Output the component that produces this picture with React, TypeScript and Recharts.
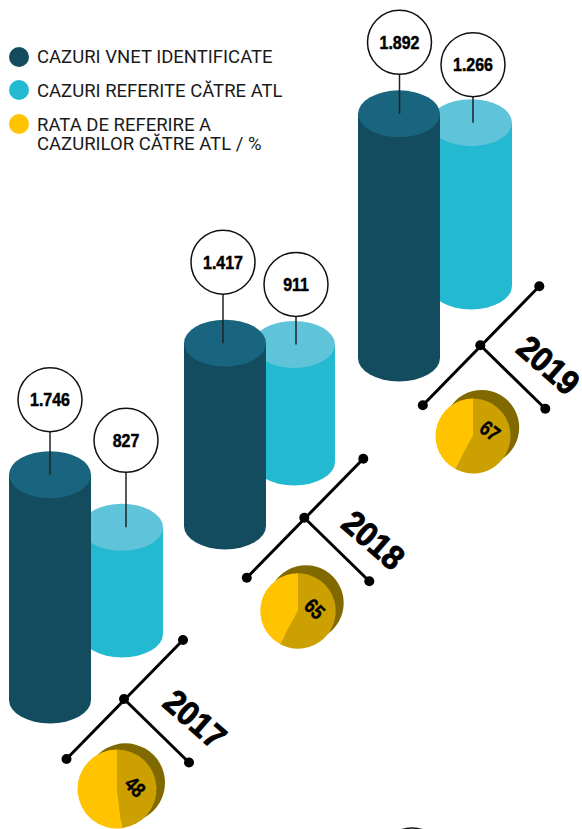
import { BarChart, Bar, XAxis, YAxis, PieChart, Pie, Cell } from "recharts";

const YEARS = ["2017", "2018", "2019"];
const VNET_CASES = [1746, 1417, 1892];
const ATL_CASES = [827, 911, 1266];
const REFERRAL_RATE = [48, 65, 67];
// the slices in the picture are not drawn to the printed rate: 65 and 67 both cover about 58%
const SLICE_SHARE = [48, 58, 58];

const LEGEND_ITEMS = ["CAZURI VNET IDENTIFICATE", "CAZURI REFERITE CĂTRE ATL", "RATA DE REFERIRE A\nCAZURILOR CĂTRE ATL / %"];

const DARK = "#134B5F";
const DARK_TOP = "#19647E";
const LIGHT = "#23BAD1";
const LIGHT_TOP = "#5FC4DA";
const YELLOW = "#FFC300";
const YELLOW_DARK = "#CCA000";
const YELLOW_BACK = "#806A00";
const BOLD_FONT = "'Liberation Sans', sans-serif";

// page placement of each year's pieces
const VNET_POS = [
  { cx: 50, base: 699.5, labelDx: 0, labelDy: -75 },
  { cx: 225, base: 525.5, labelDx: -2, labelDy: -81 },
  { cx: 399, base: 357.5, labelDx: 0.5, labelDy: -71.5 },
];
const ATL_POS = [
  { cx: 122, base: 634, labelDx: 4, labelDy: -87 },
  { cx: 294, base: 462, labelDx: 2, labelDy: -60 },
  { cx: 470.5, base: 285.5, labelDx: 2, labelDy: -58 },
];
const PIE_POS = [
  { cx: 117, cy: 789, r: 39.5, backDx: 8.5, backDy: -6.2, textDx: 18, textDy: -2, rotate: 45 },
  { cx: 297.8, cy: 611, r: 37.7, backDx: 8, backDy: -8, textDx: 16.5, textDy: -2, rotate: 45 },
  { cx: 472.5, cy: 436, r: 37.5, backDx: 8.7, backDy: -8.5, textDx: 17, textDy: -5, rotate: 38 },
];
const FRAME_POS = [
  { x: 124, y: 699, yearX: 195, yearY: 719 },
  { x: 304.3, y: 517.7, yearX: 373.5, yearY: 540 },
  { x: 480.3, y: 345.3, yearX: 548.5, yearY: 365 },
];

const PLOT_H = 400;
const MAX_CASES = 3100;
const CHART_W = 100;
const BOTTOM = 30;

const fmt = (v: number) => String(v).replace(/\B(?=(\d{3})+$)/g, ".");

// condensed heavy look of the original lettering, squeezed from the bold face
const SqueezedText = ({ x, y, rotate = 0, squeeze, size, weight = 0.4, children }: any) => (
  <text
    transform={`translate(${x} ${y}) rotate(${rotate}) scale(${squeeze} 1)`}
    textAnchor="middle"
    dominantBaseline="central"
    fontFamily={BOLD_FONT}
    fontWeight={700}
    fontSize={size}
    fill="#000"
    stroke="#000"
    strokeWidth={weight}
  >
    {children}
  </text>
);

const Cylinder = ({ x, y, width, height, side, top, value, labelDx, labelDy }: any) => {
  const rx = width / 2;
  const ry = 23.5;
  const cx = x + rx;
  const lx = cx + labelDx;
  const ly = y + labelDy;
  return (
    <g>
      <path
        d={`M${x},${y} L${x},${y + height} A${rx},${ry} 0 0 0 ${x + width},${y + height} L${x + width},${y} Z`}
        fill={side}
      />
      <ellipse cx={cx} cy={y} rx={rx} ry={ry} fill={top} />
      <line x1={lx} y1={ly + 32} x2={lx} y2={y} stroke="#222" strokeWidth={1.5} />
      <circle cx={lx} cy={ly} r={32} fill="#fff" stroke="#111" strokeWidth={1.5} />
      <SqueezedText x={lx} y={ly} squeeze={0.84} size={19} weight={0.5}>
        {fmt(value)}
      </SqueezedText>
    </g>
  );
};

const CylinderChart = ({ year, value, pos, side, top }: any) => (
  <div style={{ position: "absolute", left: pos.cx - CHART_W / 2, top: pos.base - PLOT_H }}>
    <BarChart
      width={CHART_W}
      height={PLOT_H + BOTTOM}
      data={[{ year, value }]}
      margin={{ top: 0, right: 0, bottom: BOTTOM, left: 0 }}
      barCategoryGap={0}
      style={{ overflow: "visible" }}
    >
      <XAxis dataKey="year" hide />
      <YAxis hide domain={[0, MAX_CASES]} />
      <Bar
        dataKey="value"
        barSize={82}
        isAnimationActive={false}
        shape={(p: any) => (
          <Cylinder {...p} value={value} side={side} top={top} labelDx={pos.labelDx} labelDy={pos.labelDy} />
        )}
      />
    </BarChart>
  </div>
);

const RatePie = ({ rate, share, pos }: any) => {
  const size = 120;
  const cx = 50;
  const cy = 65;
  return (
    <div style={{ position: "absolute", left: pos.cx - cx, top: pos.cy - cy }}>
      <PieChart width={size} height={size} margin={{ top: 0, right: 0, bottom: 0, left: 0 }}>
        <Pie
          data={[{ name: "back", value: 100 }]}
          dataKey="value"
          cx={cx + pos.backDx}
          cy={cy + pos.backDy}
          innerRadius={0}
          outerRadius={pos.r}
          stroke="none"
          fill={YELLOW_BACK}
          isAnimationActive={false}
        />
        <Pie
          data={[
            { name: "rate", value: share },
            { name: "rest", value: 100 - share },
          ]}
          dataKey="value"
          cx={cx}
          cy={cy}
          innerRadius={0}
          outerRadius={pos.r}
          startAngle={90}
          endAngle={-270}
          stroke="none"
          labelLine={false}
          isAnimationActive={false}
          label={({ index }: any) =>
            index === 0 ? (
              <SqueezedText x={cx + pos.textDx} y={cy + pos.textDy} rotate={pos.rotate} squeeze={0.82} size={21}>
                {rate}
              </SqueezedText>
            ) : (
              <g />
            )
          }
        >
          <Cell fill={YELLOW_DARK} />
          <Cell fill={YELLOW} />
        </Pie>
      </PieChart>
    </div>
  );
};

const Frames = () => (
  <svg width={582} height={829} style={{ position: "absolute", left: 0, top: 0, pointerEvents: "none" }}>
    {FRAME_POS.map((f, i) => (
      <g key={YEARS[i]}>
        <line x1={f.x - 57.5} y1={f.y + 60} x2={f.x + 59} y2={f.y - 59} stroke="#000" strokeWidth={3} />
        <line x1={f.x} y1={f.y} x2={f.x + 65} y2={f.y + 63.5} stroke="#000" strokeWidth={3} />
        <circle cx={f.x} cy={f.y} r={5} fill="#000" />
        <circle cx={f.x - 57.5} cy={f.y + 60} r={5} fill="#000" />
        <circle cx={f.x + 59} cy={f.y - 59} r={5} fill="#000" />
        <circle cx={f.x + 65} cy={f.y + 63.5} r={5} fill="#000" />
        <SqueezedText x={f.yearX} y={f.yearY} rotate={41} squeeze={0.92} size={34} weight={1}>
          {YEARS[i]}
        </SqueezedText>
      </g>
    ))}
    <circle cx={412} cy={860} r={32} fill="#fff" stroke="#111" strokeWidth={1.5} />
  </svg>
);

const Legend = () => {
  const colors = [DARK, LIGHT, YELLOW];
  const tops = [47, 80, 114];
  const textNudge = [0, 1, 0.5];
  return (
    <>
      {LEGEND_ITEMS.map((t, i) => (
        <div key={t} style={{ position: "absolute", left: 9, top: tops[i], display: "flex" }}>
          <span style={{ width: 20, height: 20, borderRadius: 10, background: colors[i], flex: "none" }} />
          <span
            style={{
              marginLeft: 8,
              marginTop: 1 + textNudge[i],
              fontFamily: "Roboto, sans-serif",
              fontSize: 18.5,
              lineHeight: "19.5px",
              color: "#1a1a1a",
              whiteSpace: "pre",
            }}
          >
            {t}
          </span>
        </div>
      ))}
    </>
  );
};

export default function App() {
  return (
    <div
      style={{
        position: "absolute",
        left: 0,
        top: 0,
        width: 582,
        height: 829,
        overflow: "hidden",
        background: "#fff",
      }}
    >
      {YEARS.map((year, i) => (
        <div key={year}>
          <CylinderChart year={year} value={ATL_CASES[i]} pos={ATL_POS[i]} side={LIGHT} top={LIGHT_TOP} />
          <CylinderChart year={year} value={VNET_CASES[i]} pos={VNET_POS[i]} side={DARK} top={DARK_TOP} />
        </div>
      ))}
      <Frames />
      {YEARS.map((year, i) => (
        <RatePie key={year} rate={REFERRAL_RATE[i]} share={SLICE_SHARE[i]} pos={PIE_POS[i]} />
      ))}
      <Legend />
    </div>
  );
}
